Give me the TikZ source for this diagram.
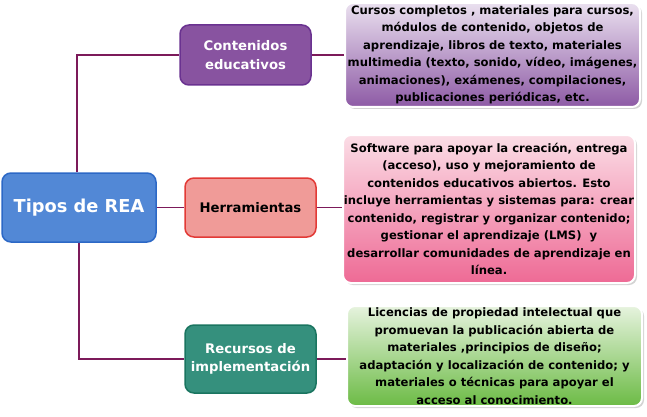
\documentclass[tikz,border=0pt]{standalone}
\usepackage{fontspec}
\setmainfont{DejaVu Sans}
\usepackage{tikz}
\usetikzlibrary{shadows}

\definecolor{linecol}{RGB}{124,26,90}
\definecolor{reafill}{RGB}{82,136,214}
\definecolor{readraw}{RGB}{44,104,198}
\definecolor{contfill}{RGB}{136,83,160}
\definecolor{contdraw}{RGB}{106,50,144}
\definecolor{herrfill}{RGB}{240,155,152}
\definecolor{herrdraw}{RGB}{226,58,54}
\definecolor{recfill}{RGB}{53,144,125}
\definecolor{recdraw}{RGB}{26,117,96}
\definecolor{conttop}{RGB}{234,224,239}
\definecolor{contbot}{RGB}{141,90,165}
\definecolor{herrtop}{RGB}{251,221,230}
\definecolor{herrbot}{RGB}{238,106,149}
\definecolor{rectop}{RGB}{230,243,222}
\definecolor{recbot}{RGB}{108,187,69}

\begin{document}
\begin{tikzpicture}
[x=1pt,y=-1pt,
  typedecorate/.style={shape=rectangle,rounded corners=9pt,draw,line width=1.5pt,
    align=center,font=\bfseries\fontsize{13.2}{18.5}\selectfont,inner sep=0pt},%
  infodecorate/.style={shape=rectangle,rounded corners=8pt,draw=white,line width=2pt,
    align=center,font=\bfseries\fontsize{11.6}{17.5}\selectfont,inner sep=0pt,
    drop shadow={shadow xshift=2pt,shadow yshift=-2pt,opacity=0.35}},%
  linedecorate/.style={-,draw=linecol,line width=1.8pt}]
\useasboundingbox (0,0) rectangle (647,417);
%% main node
\node (rea) at (79,207.5) [typedecorate,fill=reafill,draw=readraw,text=white,
  minimum width=154pt,minimum height=69pt,font=\bfseries\fontsize{17.8}{20}\selectfont]
  {Tipos de REA};
%% types
\node (cont) at (245.5,55) [typedecorate,fill=contfill,draw=contdraw,text=white,
  minimum width=131pt,minimum height=60pt] {Contenidos\\educativos};
\node (herr) at (250.5,207.5) [typedecorate,fill=herrfill,draw=herrdraw,text=black,
  minimum width=131pt,minimum height=59pt] {Herramientas};
\node (rec) at (250.5,359) [typedecorate,fill=recfill,draw=recdraw,text=white,
  minimum width=131pt,minimum height=68pt] {Recursos de\\implementación};
%% descriptions
\node (continfo) at (492.5,55) [infodecorate,top color=conttop,bottom color=contbot,
  minimum width=295pt,minimum height=104pt]
  {Cursos completos , materiales para cursos,\\ módulos de contenido, objetos de\\
   aprendizaje, libros de texto, materiales\\ multimedia (texto, sonido, vídeo, imágenes,\\
   animaciones), exámenes, compilaciones,\\ publicaciones periódicas, etc.};
\node (herrinfo) at (489,209) [infodecorate,top color=herrtop,bottom color=herrbot,
  minimum width=292pt,minimum height=148pt]
  {Software para apoyar la creación, entrega\\ (acceso), uso y mejoramiento de\\
   contenidos educativos abiertos. Esto\\ incluye herramientas y sistemas para: crear\\
   contenido, registrar y organizar contenido;\\ gestionar el aprendizaje (LMS)~ y\\
   desarrollar comunidades de aprendizaje en\\ línea.};
\node (recinfo) at (494.5,356) [infodecorate,top color=rectop,bottom color=recbot,
  minimum width=295pt,minimum height=100pt]
  {Licencias de propiedad intelectual que\\ promuevan la publicación abierta de\\
   materiales ,principios de diseño;\\ adaptación y localización de contenido; y\\
   materiales o técnicas para apoyar el\\ acceso al conocimiento.};
%% edges or lines
\draw[linedecorate] ([xshift=-2pt]rea.north) |- (cont.west);
\draw[linedecorate] (rea.south) |- (rec.west);
\path
\foreach \startnode/\endnode in {rea/herr, cont/continfo, herr/herrinfo, rec/recinfo}
{
  (\startnode.east) edge[linedecorate] (\endnode.west |- \startnode.east)
};
\end{tikzpicture}
\end{document}
